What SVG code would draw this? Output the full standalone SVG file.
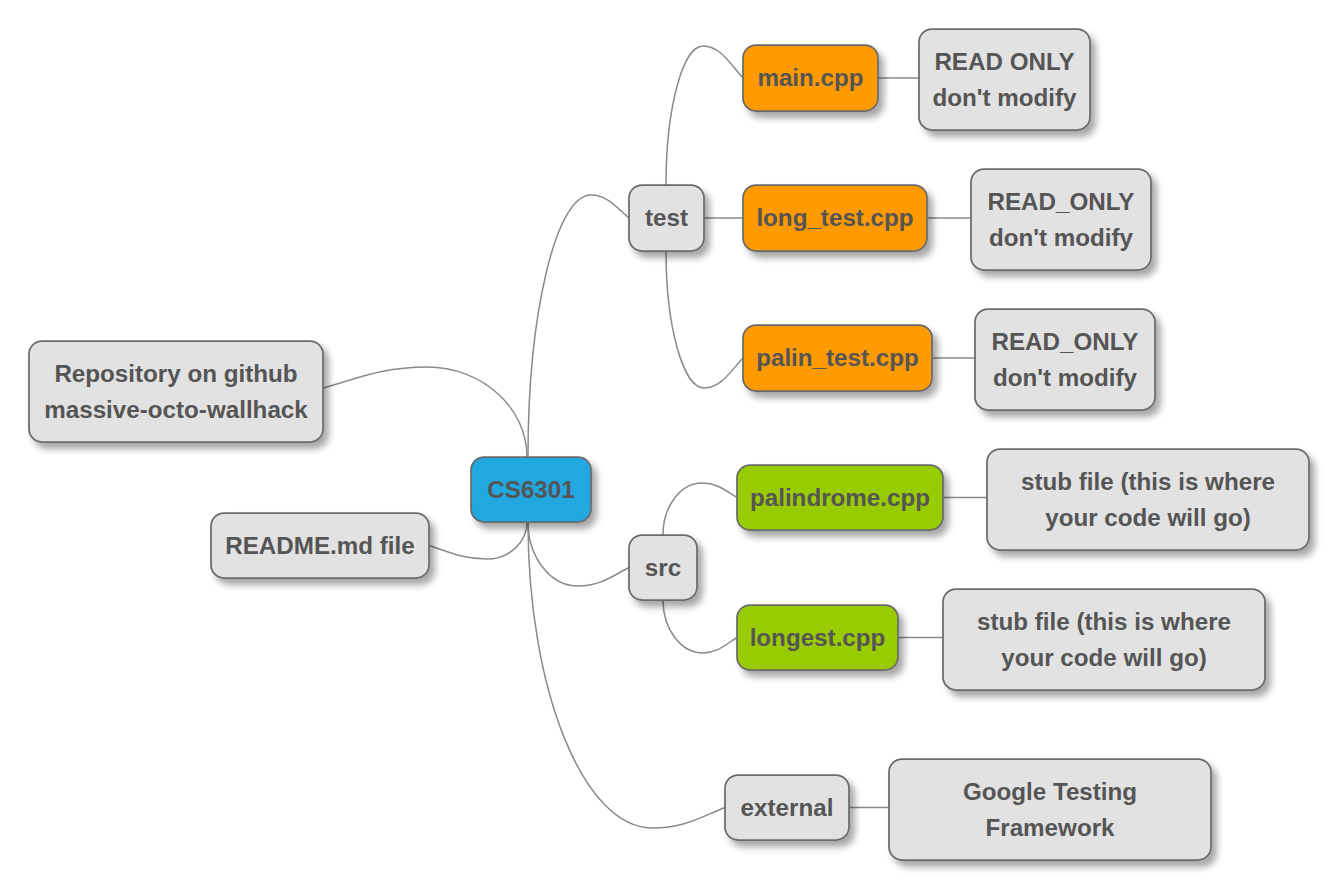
<svg xmlns="http://www.w3.org/2000/svg" width="1340" height="888" viewBox="0 0 1340 888">
<defs>
<filter id="sh" x="-20%" y="-20%" width="150%" height="160%">
<feGaussianBlur in="SourceAlpha" stdDeviation="3.5"/>
<feOffset dx="5" dy="6" result="b"/>
<feComponentTransfer><feFuncA type="linear" slope="0.35"/></feComponentTransfer>
<feMerge><feMergeNode/><feMergeNode in="SourceGraphic"/></feMerge>
</filter>
<style>
.n{stroke:#6b6b6b;stroke-width:1.75;filter:url(#sh)}
.g{fill:#e2e2e2}
.b{fill:#21a8e0}
.o{fill:#ff9a00}
.v{fill:#99cc00}
text{font-family:"Liberation Sans",Arial,sans-serif;font-weight:bold;font-size:24.2px;fill:#555555;text-anchor:middle}
.c path{fill:none;stroke:#8a8a8a;stroke-width:1.5}
</style>
</defs>
<rect width="1340" height="888" fill="#ffffff"/>
<g class="c" id="connectors">
<path d="M528,457 C528,313 556,195 591,195 C608,195 617.6,208.8 629,218"/>
<path d="M528,522 C528,557.2 550.5,586 578,586 C601,586 613.7,575.2 629,567.5"/>
<path d="M528,522 C528,690.3 583.8,828 652,828 C684.9,828 703.1,816 725,807.5"/>
<path d="M527,457 C527,407.5 482,367 427,367 C380,367 354,380 323,388"/>
<path d="M527,522 C527,542.4 509,559 487,559 C461.4,559 447.1,551.2 429,545.5"/>
<path d="M666,185 C666,108.5 682.7,46 703,46 C721,46 731,65.2 743,78"/>
<path d="M704,218 L743,218"/>
<path d="M666,251 C666,326.4 683.1,388 704,388 C721.6,388 731.3,370 743,358"/>
<path d="M663,535 C663,506.4 680.5,483 702,483 C717.8,483 726.5,491.4 737,497.5"/>
<path d="M663,600 C663,629.2 681,653 703,653 C718.3,653 726.8,643.4 737,637.5"/>
<path d="M878,78 L919,78"/>
<path d="M927,218 L971,218"/>
<path d="M932,358 L975,358"/>
<path d="M943,497.5 L987,497.5"/>
<path d="M898,637.5 L943,637.5"/>
<path d="M849,807.5 L889,807.5"/>
</g>
<g id="cs6301"><rect class="n b" x="471" y="457" width="120" height="65" rx="13"/><text x="531" y="497.5">CS6301</text></g>
<g id="test"><rect class="n g" x="629" y="185" width="75" height="66" rx="13"/><text x="666.5" y="226">test</text></g>
<g id="main"><rect class="n o" x="743" y="45" width="135" height="66" rx="13"/><text x="810.5" y="86">main.cpp</text></g>
<g id="long_test"><rect class="n o" x="743" y="185" width="184" height="66" rx="13"/><text x="835" y="226">long_test.cpp</text></g>
<g id="palin_test"><rect class="n o" x="743" y="325" width="189" height="66" rx="13"/><text x="837.5" y="366">palin_test.cpp</text></g>
<g id="ro1"><rect class="n g" x="919" y="29" width="171" height="101" rx="13"/><text x="1004.5" y="70">READ ONLY</text><text x="1004.5" y="106">don't modify</text></g>
<g id="ro2"><rect class="n g" x="971" y="169" width="180" height="101" rx="13"/><text x="1061" y="210">READ_ONLY</text><text x="1061" y="246">don't modify</text></g>
<g id="ro3"><rect class="n g" x="975" y="309" width="180" height="101" rx="13"/><text x="1065" y="350">READ_ONLY</text><text x="1065" y="386">don't modify</text></g>
<g id="repo"><rect class="n g" x="29" y="341" width="294" height="101" rx="13"/><text x="176" y="382">Repository on github</text><text x="176" y="418">massive-octo-wallhack</text></g>
<g id="readme"><rect class="n g" x="211" y="513" width="218" height="65" rx="13"/><text x="320" y="553.5">README.md file</text></g>
<g id="src"><rect class="n g" x="629" y="535" width="68" height="65" rx="13"/><text x="663" y="575.5">src</text></g>
<g id="palindrome"><rect class="n v" x="737" y="465" width="206" height="65" rx="13"/><text x="840" y="505.5">palindrome.cpp</text></g>
<g id="stub1"><rect class="n g" x="987" y="449" width="322" height="101" rx="13"/><text x="1148" y="490">stub file (this is where</text><text x="1148" y="526">your code will go)</text></g>
<g id="longest"><rect class="n v" x="737" y="605" width="161" height="65" rx="13"/><text x="817.5" y="645.5">longest.cpp</text></g>
<g id="stub2"><rect class="n g" x="943" y="589" width="322" height="101" rx="13"/><text x="1104" y="630">stub file (this is where</text><text x="1104" y="666">your code will go)</text></g>
<g id="external"><rect class="n g" x="725" y="775" width="124" height="65" rx="13"/><text x="787" y="815.5">external</text></g>
<g id="google"><rect class="n g" x="889" y="759" width="322" height="101" rx="13"/><text x="1050" y="800">Google Testing</text><text x="1050" y="836">Framework</text></g>
</svg>
